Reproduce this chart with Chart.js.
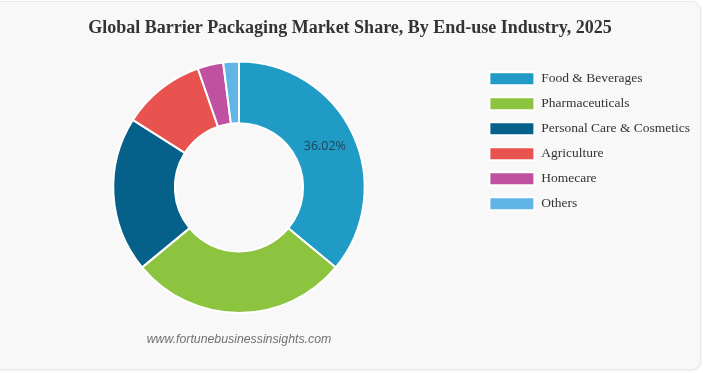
<!DOCTYPE html>
<html>
<head>
<meta charset="utf-8">
<script src="https://cdn.jsdelivr.net/npm/chart.js@4.4.1/dist/chart.umd.min.js"></script>
<style>
  html, body { margin: 0; padding: 0; background: #ffffff; }
  body { width: 703px; height: 373px; position: relative; overflow: hidden; }
  #card {
    position: absolute; left: -12px; top: 1px; width: 711px; height: 367px;
    background: #f8f8f8; border: 1px solid #e8e8e8; border-radius: 9px;
    box-shadow: 0 1px 3px rgba(0,0,0,0.08);
  }
  #wrap { position: absolute; left: 0; top: 0; width: 703px; height: 373px; }
</style>
</head>
<body>
<div id="card"></div>
<div id="wrap"><canvas id="c"></canvas></div>
<script>
const titleText = 'Global Barrier Packaging Market Share, By End-use Industry, 2025';
const categories = ['Food & Beverages', 'Pharmaceuticals', 'Personal Care & Cosmetics', 'Agriculture', 'Homecare', 'Others'];
const shares = [36.02, 28.0, 20.0, 10.7, 3.3, 2.0];
const labelledIndex = 0;
const sourceText = 'www.fortunebusinessinsights.com';
const palette = ['#1f9bc5', '#8cc43f', '#05618a', '#e8524f', '#bf51a0', '#60b5e6'];

const sliceLabel = {
  id: 'sliceLabel',
  afterDatasetsDraw(chart) {
    const arc = chart.getDatasetMeta(0).data[labelledIndex];
    if (!arc) return;
    const p = arc.tooltipPosition();
    const ctx = chart.ctx;
    ctx.save();
    ctx.font = '12.5px "Open Sans", sans-serif';
    ctx.fillStyle = '#1f4458';
    ctx.textAlign = 'center';
    ctx.textBaseline = 'middle';
    ctx.fillText(shares[labelledIndex].toFixed(2) + '%', p.x, p.y);
    ctx.restore();
  }
};

const sourceNote = {
  id: 'sourceNote',
  afterDraw(chart) {
    const ca = chart.chartArea;
    const ctx = chart.ctx;
    ctx.save();
    ctx.font = 'italic 12.3px "Liberation Sans", Arial, sans-serif';
    ctx.fillStyle = '#707070';
    ctx.textAlign = 'center';
    ctx.textBaseline = 'middle';
    ctx.fillText(sourceText, (ca.left + ca.right) / 2, ca.bottom + 26);
    ctx.restore();
  }
};

new Chart(document.getElementById('c'), {
  type: 'doughnut',
  data: {
    labels: categories,
    datasets: [{
      data: shares,
      backgroundColor: palette,
      borderColor: '#ffffff',
      borderWidth: 2,
      hoverOffset: 0
    }]
  },
  options: {
    responsive: true,
    maintainAspectRatio: false,
    animation: false,
    cutout: '51%',
    layout: { padding: { left: 0, right: 3, top: 0, bottom: 59 } },
    plugins: {
      title: {
        display: true,
        text: titleText,
        color: '#333333',
        font: { family: '"Liberation Serif", "Times New Roman", serif', size: 18, weight: 'bold' },
        padding: { top: 18, bottom: 21 }
      },
      legend: {
        position: 'right',
        align: 'start',
        fullSize: false,
        labels: {
          boxWidth: 45,
          boxHeight: 13,
          padding: 11.5,
          color: '#333333',
          font: { family: '"Liberation Serif", "Times New Roman", serif', size: 13.5 }
        }
      },
      tooltip: { enabled: false }
    }
  },
  plugins: [sliceLabel, sourceNote]
});
</script>
</body>
</html>
